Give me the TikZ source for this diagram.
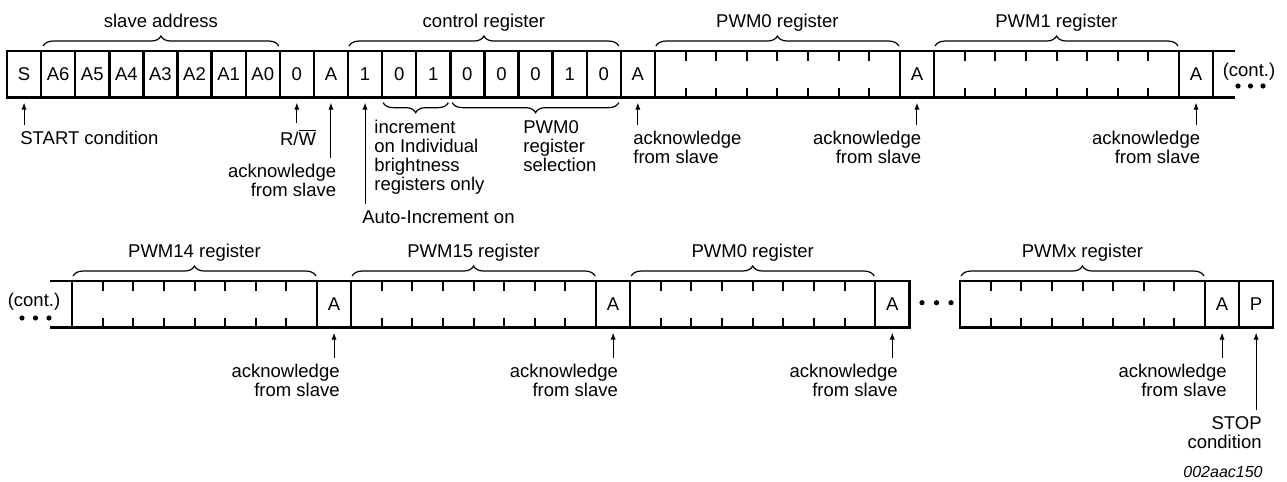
\documentclass[tikz,border=0pt]{standalone}
\usepackage{fontspec}
\setmainfont{Liberation Sans}
\usetikzlibrary{positioning,calc,arrows.meta,decorations.pathreplacing}

\tikzset{
  caja/.style={draw, line width=1.2pt, inner sep=0pt, outer sep=0pt,
    minimum width=17.05pt, minimum height=23.3pt, font=\fontsize{9.25}{9.5}\selectfont},
  octeto/.style={caja, minimum width=122.5pt},
  marca/.style={line width=1pt},
  borde/.style={line width=1.2pt},
  llave/.style={decorate, decoration={brace, amplitude=5pt}, line width=0.6pt},
  flecha/.style={-{Latex[length=3.5pt,width=2.6pt]}, line width=0.5pt},
  nota/.style={inner sep=0pt, font=\fontsize{9.25}{9.5}\selectfont},
  titulo/.style={nota, midway, anchor=base, yshift=9.15pt},
}

\begin{document}
\begin{tikzpicture}[x=0.5pt, y=-0.5pt]
\useasboundingbox (0,0) rectangle (1287,482);
% Fila 1: dirección del esclavo
\node[caja] (S) at (24.05,74.35) {S};
\node[caja, right=0pt of S] (a6) {A6};
\node[caja, right=0pt of a6] (a5) {A5};
\node[caja, right=0pt of a5] (a4) {A4};
\node[caja, right=0pt of a4] (a3) {A3};
\node[caja, right=0pt of a3] (a2) {A2};
\node[caja, right=0pt of a2] (a1) {A1};
\node[caja, right=0pt of a1] (a0) {A0};
\node[caja, right=0pt of a0] (rw) {0};
\node[caja, right=0pt of rw] (ack1) {A};
% Registro de control
\node[caja, right=0pt of ack1] (c7) {1};
\node[caja, right=0pt of c7] (c6) {0};
\node[caja, right=0pt of c6] (c5) {1};
\node[caja, right=0pt of c5] (c4) {0};
\node[caja, right=0pt of c4] (c3) {0};
\node[caja, right=0pt of c3] (c2) {0};
\node[caja, right=0pt of c2] (c1) {1};
\node[caja, right=0pt of c1] (c0) {0};
\node[caja, right=0pt of c0] (ack2) {A};
% Registros PWM0 y PWM1
\node[octeto, right=0pt of ack2] (pwm0a) {};
\node[caja, right=0pt of pwm0a] (ack3) {A};
\node[octeto, right=0pt of ack3] (pwm1) {};
\node[caja, right=0pt of pwm1] (ack4) {A};
\coordinate (fin1) at (1235,74.35);
\draw[borde] (ack4.north east) -- (ack4.north east -| fin1);
\draw[borde] (ack4.south east) -- (ack4.south east -| fin1);
\node[nota] (cont1) at (1249,71.7) {(cont.)};
\foreach \x in {1238,1250.5,1263} \fill (\x,86) circle (1.3pt);

% Fila 2: PWM14, PWM15, PWM0 ... PWMx
\coordinate (ini2) at (50,304.35);
\node[octeto] (pwm14) at (194.5,304.35) {};
\draw[borde] (ini2 |- pwm14.north) -- (pwm14.north west);
\draw[borde] (ini2 |- pwm14.south) -- (pwm14.south west);
\node[nota] (cont2) at (34,301.7) {(cont.)};
\foreach \x in {22,35.5,49} \fill (\x,318) circle (1.3pt);
\node[caja, right=0pt of pwm14] (ack5) {A};
\node[octeto, right=0pt of ack5] (pwm15) {};
\node[caja, right=0pt of pwm15] (ack6) {A};
\node[octeto, right=0pt of ack6] (pwm0b) {};
\node[caja, right=0pt of pwm0b] (ack7) {A};
\foreach \x in {922,936.5,951} \fill (\x,302.7) circle (1.3pt);
\node[octeto] (pwmx) at (1082.5,304.35) {};
\node[caja, right=0pt of pwmx] (ack8) {A};
\node[caja, right=0pt of ack8] (P) {P};

% Marcas de los bits
\foreach \r in {pwm0a,pwm1,pwm14,pwm15,pwm0b,pwmx}
  \foreach \i in {1,...,7} {
    \draw[marca] ($(\r.north west)!\i/8!(\r.north east)$) -- ++(0,10);
    \draw[marca] ($(\r.south west)!\i/8!(\r.south east)$) -- ++(0,-10);
  }

% Llaves superiores
\draw[llave] ([xshift=1pt,yshift=2.5pt]a6.north west) -- ([xshift=-0.5pt,yshift=2.5pt]a0.north east) node[titulo] {slave address};
\draw[llave] ([xshift=0.5pt,yshift=2.5pt]c7.north west) -- ([xshift=-1pt,yshift=2.5pt]c0.north east) node[titulo] {control register};
\draw[llave] ([xshift=0.5pt,yshift=2.5pt]pwm0a.north west) -- ([xshift=-0.5pt,yshift=2.5pt]pwm0a.north east) node[titulo] {PWM0 register};
\draw[llave] ([xshift=0.5pt,yshift=2.5pt]pwm1.north west) -- ([xshift=-0.5pt,yshift=2.5pt]pwm1.north east) node[titulo] {PWM1 register};
\draw[llave] ([xshift=0.5pt,yshift=2.5pt]pwm14.north west) -- ([xshift=-0.5pt,yshift=2.5pt]pwm14.north east) node[titulo] {PWM14 register};
\draw[llave] ([xshift=0.5pt,yshift=2.5pt]pwm15.north west) -- ([xshift=-0.5pt,yshift=2.5pt]pwm15.north east) node[titulo] {PWM15 register};
\draw[llave] ([xshift=0.5pt,yshift=2.5pt]pwm0b.north west) -- ([xshift=-0.5pt,yshift=2.5pt]pwm0b.north east) node[titulo] {PWM0 register};
\draw[llave] ([xshift=0.5pt,yshift=2.5pt]pwmx.north west) -- ([xshift=-0.5pt,yshift=2.5pt]pwmx.north east) node[titulo] {PWMx register};
% Llaves inferiores
\draw[llave] ([xshift=-1pt,yshift=-2.5pt]c5.south east) -- ([xshift=0.5pt,yshift=-2.5pt]c6.south west);
\draw[llave] ([xshift=-1pt,yshift=-2.5pt]c0.south east) -- ([xshift=1pt,yshift=-2.5pt]c4.south west);

% Textos
\node[nota, anchor=north west] (lstart) at (20,131) {START condition};
\node[nota, anchor=north] (lrw) at (298,128.5) {R/$\overline{\mbox{W}}$};
\node[nota, anchor=north east, align=right] (lack1) at (336.5,164) {acknowledge\\from slave};
\node[nota, anchor=north west] (lauto) at (362,210) {Auto-Increment on};
\node[nota, anchor=north west, align=left] (linc) at (374,120) {increment\\on Individual\\brightness\\registers only};
\node[nota, anchor=north west, align=left] (lsel) at (523,120) {PWM0\\register\\selection};
\node[nota, anchor=north west, align=left] (lack2) at (633,131) {acknowledge\\from slave};
\node[nota, anchor=north east, align=right] (lack3) at (921.5,131) {acknowledge\\from slave};
\node[nota, anchor=north east, align=right] (lack4) at (1200.5,131) {acknowledge\\from slave};
\node[nota, anchor=north east, align=right] (lack5) at (340,364) {acknowledge\\from slave};
\node[nota, anchor=north east, align=right] (lack6) at (618.3,364) {acknowledge\\from slave};
\node[nota, anchor=north east, align=right] (lack7) at (898,364) {acknowledge\\from slave};
\node[nota, anchor=north east, align=right] (lack8) at (1227,364) {acknowledge\\from slave};
\node[nota, anchor=north east, align=right] (lstop) at (1262,416) {STOP\\condition};
\node[nota, anchor=north east, font=\fontsize{8}{9}\selectfont\itshape] (lcod) at (1263,466) {002aac150};

% Flechas
\foreach \dest/\orig in {S/lstart, rw/lrw, ack1/lack1, c7/lauto, ack2/lack2, ack3/lack3, ack4/lack4,
    ack5/lack5, ack6/lack6, ack7/lack7, ack8/lack8, P/lstop}
  \draw[flecha] ($(\orig.north -| \dest.south)+(0,-6)$) -- ($(\dest.south)+(0,5)$);
\end{tikzpicture}
\end{document}
